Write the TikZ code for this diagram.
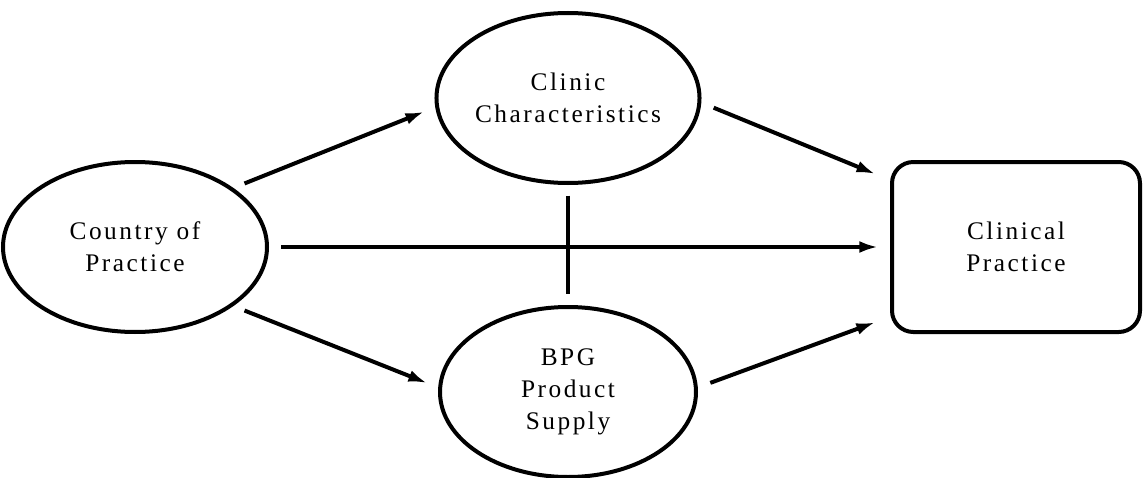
\documentclass[tikz,border=0pt]{standalone}
\usepackage{fontspec}
\setmainfont{Liberation Serif}[LetterSpace=10]
\usetikzlibrary{shapes.geometric,arrows.meta}

\begin{document}
\begin{tikzpicture}[x=0.75pt,y=-0.75pt]
        \tikzstyle{factor}=[draw,ellipse,line width=3pt,inner sep=0pt,
            minimum width=192pt,minimum height=127.5pt,align=center,
            font=\fontsize{19}{24}\selectfont]
        \tikzstyle{outcome}=[draw,rectangle,rounded corners=16pt,line width=3pt,
            minimum width=186pt,minimum height=127.5pt,align=center,
            font=\fontsize{19}{24}\selectfont]
        \tikzstyle{effect}=[line width=3pt,-{Latex[length=14pt,width=9pt]},
            shorten <=9pt,shorten >=9pt]
        \useasboundingbox (0,0) rectangle (1143,478);
        \node[factor,minimum width=198pt] (country) at (135,247) {Country of\\Practice};
        \node[factor] (clinic) at (568,98) {Clinic\\Characteristics};
        \node[factor] (supply) at (568,392) {BPG\\Product\\Supply};
        \node[outcome] (practice) at (1016,247) {Clinical\\Practice};
        % paths into clinical practice
        \draw[effect] (country.31) -- (clinic.184);
        \draw[effect] (country.-31) -- (supply.178);
        \draw[effect] (country.east) -- (practice.west);
        \draw[effect,shorten <=10pt,shorten >=12pt] (clinic.-2) -- (practice.152);
        \draw[effect,shorten <=10pt,shorten >=12pt] (supply.2) -- (practice.209);
        \draw[line width=3pt,shorten <=8pt,shorten >=8pt] (clinic.south) -- (supply.north);
\end{tikzpicture}
\end{document}
